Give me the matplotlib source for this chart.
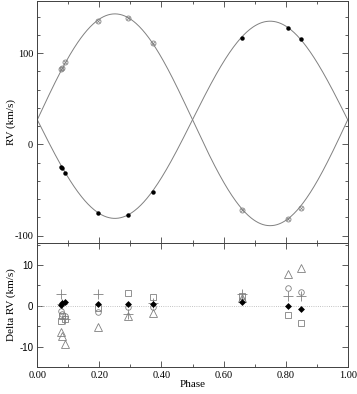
import matplotlib
matplotlib.use("Agg")
import matplotlib.pyplot as plt
import numpy as np
from matplotlib.ticker import MultipleLocator

plt.rcParams["font.family"] = ["Liberation Serif", "DejaVu Serif"]
plt.rcParams["font.size"] = 7.5
plt.rcParams["axes.unicode_minus"] = False

# orbit solution
gamma = 27.0
k1 = 108.0
k2 = 116.0

# observed RVs
phase_obs = [0.077, 0.080, 0.090, 0.197, 0.291, 0.372, 0.658, 0.809, 0.848]
rv_primary = [-24.5, -25.5, -31.5, -75.2, -77.0, -51.6, 117.0, 127.0, 115.0]
rv_secondary = [82.2, 84.0, 89.8, 135.0, 138.0, 110.6, -71.6, -81.7, -70.0]

# residuals for the different methods
d_plus = [2.8, 0.5, -3.2, 2.8, -2.0, 0.8, 2.8, 2.3, 2.5]
d_diamond = [0.2, 0.6, 1.0, 0.5, 0.4, 0.5, 1.0, -0.1, -0.7]
d_circle = [-1.2, -2.0, -2.5, -1.5, -0.4, -0.2, 1.5, 4.4, 3.3]
d_square = [-3.8, -2.5, -3.3, -0.6, 3.1, 2.1, 2.3, -2.3, -4.2]
d_triangle = [-6.3, -7.3, -9.3, -5.1, -2.4, -1.7, 1.8, 7.7, 9.3]

ph = np.linspace(0, 1, 400)
curve1 = gamma - k1 * np.sin(2 * np.pi * ph)
curve2 = gamma + k2 * np.sin(2 * np.pi * ph)

fig = plt.figure(figsize=(3.57, 3.94), dpi=100)
ax1 = fig.add_axes([0.1045, 0.3832, 0.8695, 0.614])
ax2 = fig.add_axes([0.1045, 0.0685, 0.8695, 0.3147])

grey = "#808080"
ax1.plot(ph, curve1, color=grey, lw=0.7)
ax1.plot(ph, curve2, color=grey, lw=0.7)
ax1.plot(phase_obs, rv_primary, "o", color="black", ms=3.2, mew=0)
ax1.plot(phase_obs, rv_secondary, "o", mfc="none", mec=grey, ms=3.6, mew=0.6)
ax1.plot(phase_obs, rv_secondary, "x", color=grey, ms=2.0, mew=0.5)
ax1.set_xlim(0, 1)
ax1.set_ylim(-108, 157)
ax1.set_ylabel("RV (km/s)", fontsize=8)
ax1.yaxis.set_label_coords(-0.07, 0.5)
ax1.yaxis.set_major_locator(MultipleLocator(100))
ax1.yaxis.set_minor_locator(MultipleLocator(20))
ax1.xaxis.set_major_locator(MultipleLocator(0.2))
ax1.xaxis.set_minor_locator(MultipleLocator(0.1))
ax1.set_xticklabels([])

ax2.axhline(0, color="#b0b0b0", lw=0.6, ls=":")
ax2.plot(phase_obs, d_triangle, "^", mfc="none", mec=grey, ms=5.5, mew=0.6)
ax2.plot(phase_obs, d_square, "s", mfc="none", mec=grey, ms=5.0, mew=0.6)
ax2.plot(phase_obs, d_circle, "o", mfc="none", mec=grey, ms=4.0, mew=0.6)
ax2.plot(phase_obs, d_plus, "+", color=grey, ms=7.0, mew=0.6)
ax2.plot(phase_obs, d_diamond, "D", color="black", ms=3.5, mew=0)
ax2.set_xlim(0, 1)
ax2.set_ylim(-15, 15.4)
ax2.set_xlabel("Phase", fontsize=8)
ax2.xaxis.set_label_coords(0.5, -0.105)
ax2.set_ylabel("Delta RV (km/s)", fontsize=8)
ax2.yaxis.set_label_coords(-0.07, 0.5)
ax2.yaxis.set_major_locator(MultipleLocator(10))
ax2.yaxis.set_minor_locator(MultipleLocator(5))
ax2.xaxis.set_major_locator(MultipleLocator(0.2))
ax2.xaxis.set_minor_locator(MultipleLocator(0.1))
ax2.xaxis.set_major_formatter(lambda v, pos: f"{v:.2f}")

for ax in (ax1, ax2):
    ax.tick_params(which="both", direction="in", top=True, right=True,
                   color="#404040", width=0.6)
    ax.tick_params(which="major", length=4, pad=3)
    ax.tick_params(which="minor", length=2.5)
    for s in ax.spines.values():
        s.set_linewidth(0.7)
        s.set_color("#404040")

# the residual panel's y tick labels are in a sans face
for lab in ax2.get_yticklabels():
    lab.set_family(["Liberation Sans", "DejaVu Sans"])
    lab.set_fontsize(7)

fig.savefig("out.png", dpi=100)
